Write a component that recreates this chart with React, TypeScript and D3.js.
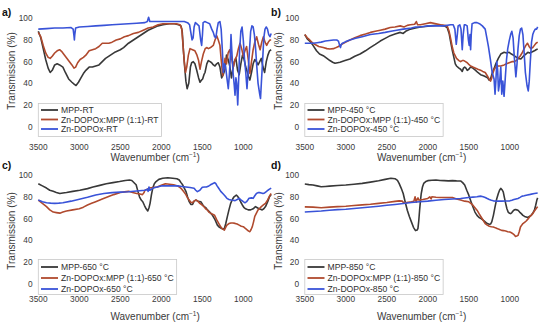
import React, { useEffect, useRef } from "react";
import * as d3 from "d3";

type Pt = [number, number];

const xTicks = [3500, 3000, 2500, 2000, 1500, 1000];
const yTicks = [0, 20, 40, 60, 80, 100];
const panelLetters = ["a)", "b)", "c)", "d)"];
const conditions = ["RT", "450 °C", "650 °C", "850 °C"];
const seriesNames = ["MPP", "Zn-DOPOx:MPP (1:1)", "Zn-DOPOx"];
const colors = ["#383838", "#b04a2e", "#3953d8"];

// panel a) room temperature
const mppRT: Pt[] = [[3500,88],[3470,82],[3440,72],[3410,62],[3380,54],[3355,50],[3330,52],[3300,57],[3270,58],[3240,57],[3200,55],[3170,50],[3130,44],[3090,41],[3060,39],[3040,38],[3010,41],[2980,45],[2950,49],[2920,52],[2880,55],[2840,55],[2800,56],[2760,57],[2720,60],[2680,63],[2620,66],[2560,69],[2500,71],[2460,73],[2400,77],[2340,80],[2280,83],[2220,86],[2160,89],[2100,91],[2040,93],[1980,94],[1900,95],[1840,95],[1790,94],[1760,93],[1745,88],[1730,70],[1715,55],[1700,42],[1685,35],[1665,40],[1645,55],[1630,59],[1610,60],[1590,58],[1568,52],[1545,45],[1528,41],[1510,43],[1496,44],[1480,48],[1467,50],[1445,58],[1427,61],[1405,60],[1386,59],[1365,57],[1345,56],[1325,58],[1305,59],[1285,55],[1264,45],[1245,48],[1223,53],[1205,66],[1185,62],[1165,56],[1145,45],[1130,52],[1110,60],[1090,63],[1070,52],[1050,48],[1030,58],[1010,66],[990,62],[970,55],[950,50],[935,46],[920,43],[900,50],[880,58],[860,62],[840,60],[820,57],[800,60],[780,63],[760,55],[740,50],[720,60],[700,66],[680,70],[660,71]];
const compRT: Pt[] = [[3500,87],[3470,83],[3440,75],[3410,68],[3380,64],[3355,63],[3330,65],[3300,68],[3270,70],[3240,71],[3210,69],[3180,66],[3150,63],[3120,60],[3090,57],[3065,54],[3045,55],[3020,59],[2990,62],[2950,64],[2920,66],[2880,70],[2840,71],[2800,72],[2760,74],[2720,77],[2680,77],[2640,77],[2600,78],[2550,80],[2500,81],[2450,83],[2400,84],[2340,86],[2280,87],[2220,89],[2160,91],[2100,92],[2040,94],[1980,95],[1900,95],[1820,95],[1770,94],[1750,90],[1735,75],[1720,60],[1705,50],[1690,55],[1670,66],[1650,72],[1620,71],[1590,70],[1565,66],[1545,61],[1528,53],[1510,60],[1488,67],[1465,72],[1447,73],[1425,72],[1400,73],[1366,75],[1345,80],[1325,84],[1305,80],[1285,75],[1265,58],[1251,47],[1235,55],[1223,63],[1205,58],[1185,68],[1165,71],[1140,62],[1122,55],[1100,62],[1080,65],[1060,72],[1040,77],[1020,72],[1000,65],[980,70],[960,74],[940,62],[919,49],[900,60],[880,71],[860,78],[837,83],[815,76],[795,71],[775,78],[755,83],[735,78],[715,75],[695,78],[675,80],[660,80]];
const dopoxRT: Pt[] = [[3500,90],[3400,90.5],[3300,91],[3200,91],[3100,91.5],[3075,90],[3065,84],[3060,80],[3055,85],[3045,91],[3000,92],[2900,92.5],[2800,93],[2700,93.5],[2600,94],[2500,94.5],[2400,95],[2300,95.5],[2200,96],[2170,97],[2155,101],[2140,97],[2100,97],[2000,97],[1900,97],[1800,97],[1720,97],[1680,96],[1655,94],[1640,87],[1625,80],[1612,82],[1600,92],[1585,96],[1570,95],[1540,93],[1520,80],[1508,75],[1498,85],[1490,96],[1470,97],[1440,96],[1410,95],[1385,90],[1366,87],[1350,83],[1335,82],[1320,90],[1305,96],[1285,97],[1270,90],[1255,70],[1244,50],[1230,58],[1215,55],[1200,45],[1183,35],[1170,48],[1160,62],[1150,85],[1140,70],[1125,50],[1110,38],[1101,29],[1090,45],[1080,40],[1068,20],[1058,40],[1045,70],[1030,88],[1015,92],[1000,80],[985,62],[970,50],[955,35],[940,52],[925,70],[910,88],[895,93],[880,92],[865,85],[850,72],[835,55],[820,40],[800,30],[790,26],[780,40],[765,60],[750,82],[735,90],[720,92],[705,90],[690,85],[675,83],[660,86]];

// panel b) 450 °C
const mpp450: Pt[] = [[3500,85],[3470,81],[3440,79],[3400,75],[3357,70],[3320,67],[3275,65.5],[3230,63],[3194,61],[3160,59.5],[3132,58.5],[3100,59],[3071,59.5],[3010,61],[2950,62.5],[2890,65],[2826,67],[2760,70],[2703,73],[2640,76],[2580,79],[2520,81.5],[2458,84],[2400,85.5],[2336,87],[2300,86],[2270,88],[2213,90],[2150,91],[2090,92],[2030,92.5],[1968,93],[1900,93.5],[1845,93.5],[1800,93],[1764,91.5],[1740,86],[1723,79],[1700,70],[1682,64],[1665,58],[1650,56],[1620,54],[1600,53],[1580,51],[1565,54],[1550,55],[1535,54],[1519,52],[1500,53],[1478,55],[1450,54],[1417,52],[1390,50],[1356,48],[1320,47],[1294,46],[1270,45],[1253,43],[1235,44],[1212,50],[1190,54],[1171,58],[1140,63],[1110,67],[1069,68.6],[1040,68],[1008,68.6],[980,67],[947,65.5],[900,63],[865,62.5],[835,65],[804,67],[780,68.6],[760,68],[730,69],[700,70],[680,71],[660,71.6]];
const comp450: Pt[] = [[3500,85],[3470,82],[3440,80],[3400,77],[3380,76],[3330,74],[3275,73],[3230,72],[3194,71.6],[3150,72],[3132,72.5],[3090,74],[3050,76],[3000,78],[2950,80],[2890,82],[2826,84],[2760,85.5],[2700,87],[2640,88],[2580,89],[2520,90],[2458,91.5],[2400,92],[2336,93],[2290,92],[2250,93.5],[2213,94],[2160,94.5],[2140,97],[2125,94],[2090,94],[2030,95],[1968,96],[1900,95],[1845,94],[1800,93.5],[1764,93],[1740,88],[1723,82],[1700,73],[1682,68],[1650,63],[1620,61],[1600,60],[1580,61],[1560,61],[1540,60],[1519,59],[1500,57.5],[1478,56],[1450,55],[1417,54],[1390,53],[1356,52],[1330,51],[1300,50],[1275,47],[1253,44],[1235,42],[1220,45],[1212,48],[1190,53],[1171,55],[1140,56],[1110,56],[1069,57],[1040,58],[1008,59],[975,60],[947,60],[920,61],[900,63],[875,65],[850,68],[825,72],[804,75],[785,77],[765,74],[743,72],[720,73],[700,75],[680,77],[660,78]];
const dopox450: Pt[] = [[3500,77],[3450,77],[3400,77],[3350,77.5],[3300,78],[3250,79],[3200,79.5],[3150,80],[3110,80],[3090,79],[3075,75],[3065,73],[3055,76],[3040,77],[3000,78.5],[2950,80],[2880,81.5],[2800,83],[2700,85],[2600,86],[2520,87],[2450,88],[2380,89],[2300,90],[2250,90.5],[2200,91],[2150,92],[2100,92],[2050,92.5],[2000,93],[1900,93],[1800,93],[1723,94],[1690,94],[1670,90],[1653,76],[1640,85],[1630,93],[1610,94],[1595,90],[1580,71],[1568,85],[1555,94],[1540,94],[1520,93],[1505,80],[1495,75],[1485,85],[1478,71],[1470,85],[1460,95],[1430,96],[1400,96],[1370,95],[1335,93],[1300,90],[1280,82],[1261,74],[1237,62],[1215,50],[1192,44],[1180,30],[1170,42],[1158,60],[1148,52],[1138,33],[1125,40],[1110,55],[1098,30],[1085,42],[1070,28],[1055,45],[1040,62],[1025,72],[1008,79],[990,85],[975,88],[960,82],[945,64],[926,46],[912,58],[900,72],[885,84],[870,90],[855,91],[840,85],[825,68],[810,50],[790,38],[775,33],[763,42],[750,60],[735,78],[720,85],[705,88],[690,90],[673,90],[660,92]];

// panel c) 650 °C
const mpp650: Pt[] = [[3500,92],[3450,90],[3400,88],[3360,86],[3318,85],[3280,84],[3237,83],[3200,83.5],[3156,84],[3080,85],[2994,86],[2900,87.5],[2833,89],[2750,90.5],[2671,92],[2590,93],[2509,94],[2440,95],[2388,95.4],[2360,95],[2347,94],[2320,92],[2307,91],[2285,85],[2266,80],[2245,77],[2226,75.5],[2205,72],[2185,69],[2165,67],[2150,70],[2137,74],[2120,82],[2104,88],[2085,92],[2064,94],[2030,96],[1983,97],[1920,97.5],[1862,97],[1810,96.5],[1781,95.4],[1760,93],[1740,91],[1720,88],[1700,85],[1680,80],[1660,75.5],[1640,73],[1619,73],[1600,76],[1579,77],[1550,76],[1518,75.5],[1497,73],[1477,71],[1457,70],[1437,68],[1410,66],[1376,63],[1345,59],[1316,54],[1290,52],[1263,51],[1235,50],[1215,55],[1194,62],[1175,68],[1154,74],[1130,78],[1113,80],[1085,81.6],[1070,80.5],[1053,78.6],[1030,75],[1012,72.5],[990,70],[972,69],[940,68],[911,68],[880,69],[851,71],[830,70],[810,69],[790,68.5],[770,68],[750,69],[729,71],[700,76],[681,80],[660,82]];
const comp650: Pt[] = [[3500,77],[3450,74],[3400,71],[3360,68],[3318,66],[3280,65.5],[3237,65],[3200,66],[3156,67],[3080,68],[3000,69],[2950,70.5],[2900,72.5],[2850,74],[2800,75.5],[2720,78],[2650,80],[2580,82],[2500,84],[2450,84.5],[2400,85],[2350,84],[2300,83],[2260,82.5],[2230,82],[2210,84],[2200,86],[2170,87],[2150,88],[2100,88.5],[2050,89],[2000,90.5],[1950,92],[1900,91.5],[1850,91],[1800,90],[1780,89],[1750,87],[1730,85],[1700,82],[1680,79],[1660,77],[1640,75],[1620,74.6],[1600,76],[1580,77],[1555,76],[1530,74],[1505,72.5],[1480,71],[1460,69],[1440,68],[1420,66],[1400,65],[1375,64],[1350,63],[1325,59],[1300,55.6],[1280,53],[1260,51],[1230,49.5],[1215,52],[1200,54],[1175,55.5],[1150,56],[1125,56],[1100,55.6],[1075,55],[1050,54],[1025,53],[1000,52.6],[975,51],[950,49.5],[935,48.5],[920,48],[905,50],[890,52.6],[875,57],[860,62],[840,65],[820,68],[800,69.5],[780,71],[755,72.5],[730,74],[705,77],[680,80.7],[660,83]];
const dopox650: Pt[] = [[3500,77],[3450,75.5],[3400,74.6],[3350,74.2],[3300,74],[3250,74.2],[3200,74.6],[3100,76],[3000,77.7],[2900,79.5],[2800,81.7],[2700,83],[2600,83.8],[2500,84.3],[2400,84.7],[2300,85.3],[2200,86],[2170,87],[2160,85],[2150,89],[2140,86],[2100,88],[2050,89],[2000,90],[1900,90],[1800,90],[1750,89.5],[1700,89],[1650,88.5],[1600,87.8],[1580,86],[1560,84.7],[1530,86],[1500,88.7],[1470,89],[1450,89],[1420,90],[1400,91],[1375,92],[1350,93],[1335,92],[1320,90],[1300,87.8],[1275,85],[1250,83],[1225,81],[1200,78.6],[1175,77.5],[1150,77],[1125,76.8],[1100,76.5],[1075,77.5],[1050,78.6],[1025,77],[1000,75.5],[980,74.5],[960,75.5],[945,77],[930,78.6],[900,79],[880,78.6],[860,81],[840,83],[820,83.8],[800,83.8],[780,83.5],[760,83],[740,83.5],[720,84.7],[700,86],[680,87],[660,88]];

// panel d) 850 °C
const mpp850: Pt[] = [[3500,91.7],[3450,91.2],[3400,90.8],[3350,90],[3300,89.2],[3250,89.5],[3200,89.8],[3100,90.3],[3000,90.8],[2900,91.5],[2800,92.3],[2700,93.5],[2600,94.8],[2520,96],[2450,97],[2400,96.6],[2370,95],[2350,92.3],[2325,88],[2300,83],[2275,75],[2250,67.7],[2225,62],[2200,57],[2175,52],[2150,49],[2130,49.5],[2120,51],[2110,58],[2100,67.7],[2090,76],[2080,83],[2065,89],[2050,92.3],[2025,94],[2000,94.8],[1950,95.2],[1900,95.4],[1850,95],[1800,94.8],[1750,94.6],[1700,94.8],[1650,94.6],[1600,94.5],[1575,93],[1550,90.8],[1525,86],[1500,81.5],[1475,76],[1450,70.8],[1425,66],[1400,63],[1375,61],[1350,60],[1325,58.5],[1300,57],[1275,55.5],[1250,54.8],[1235,55],[1220,57],[1200,63],[1180,70.8],[1160,78],[1140,83],[1125,86],[1110,87.7],[1095,86.5],[1080,84.6],[1065,79],[1050,73.8],[1035,69],[1020,66],[1005,65],[990,64.6],[975,65.5],[960,67],[945,68],[930,68.3],[915,68],[900,67.7],[880,66],[860,64.6],[840,63],[820,62],[800,61.5],[780,61],[760,62],[740,63],[720,65],[700,67.7],[685,72],[670,77],[660,79]];
const comp850: Pt[] = [[3500,70.8],[3400,70.5],[3300,70],[3200,70.5],[3100,71],[3000,71.4],[2900,72],[2800,72.6],[2700,73.2],[2600,74],[2500,74.8],[2400,75.8],[2350,76.3],[2310,76],[2290,74],[2270,74.5],[2240,75],[2200,75.4],[2170,76],[2155,80],[2148,77],[2140,75],[2130,78],[2120,79],[2110,77],[2100,77],[2060,77.5],[2030,78],[2000,78.5],[1975,80],[1960,78],[1950,80],[1900,79.6],[1850,79.4],[1800,79.4],[1750,79.4],[1700,79.4],[1650,78],[1600,77],[1550,76],[1500,75.4],[1475,74],[1450,72.3],[1425,70],[1400,67.7],[1375,64.5],[1350,61.5],[1325,58.5],[1300,55.4],[1275,54],[1250,53],[1225,52.5],[1200,52.3],[1175,51.5],[1150,50.8],[1125,50],[1100,49.2],[1075,49],[1050,48.6],[1025,48],[1000,47.7],[980,47],[960,46],[945,45],[930,43.7],[915,44],[900,44.6],[885,48],[870,52.3],[855,54],[840,55.4],[820,56.5],[800,57.8],[780,59.5],[760,61.5],[740,63],[720,64.6],[700,67],[680,69],[660,71]];
const dopox850: Pt[] = [[3500,66],[3400,66.5],[3300,67],[3200,67.7],[3100,68.2],[3000,68.6],[2900,69.3],[2800,70],[2700,70.7],[2600,71.4],[2500,72.2],[2400,73],[2300,73.9],[2200,74.8],[2100,75.4],[2000,76],[1900,76.8],[1800,77.5],[1700,78],[1600,78.5],[1500,79.4],[1450,79.7],[1400,80],[1375,80.4],[1350,80.6],[1325,80],[1300,79.4],[1275,78.4],[1250,77.5],[1225,76.8],[1200,76.3],[1150,76],[1100,76],[1050,76.1],[1000,76.3],[975,76.8],[950,77.5],[925,78],[900,78.5],[875,79.5],[850,80.6],[825,81],[800,81.5],[750,82.2],[700,83],[660,83.5]];

const panelData = [
  [mppRT, compRT, dopoxRT],
  [mpp450, comp450, dopox450],
  [mpp650, comp650, dopox650],
  [mpp850, comp850, dopox850],
];

// layout of the two rows (they are slightly different in the source figure)
const rows = [
  { top: 18.3, bottom: 137.5, tickY: 147, titleY: 157, letterY: 12.5, yTitle: 71, legTop: 103.5, legBottom: 136.5, legRows: [110, 119.5, 129] },
  { top: 175, bottom: 294.9, tickY: 299, titleY: 316, letterY: 165, yTitle: 231, legTop: 259.5, legBottom: 294.5, legRows: [267, 278, 289] },
];
const colsDx = [0, 266.5];

const FONT = "'Liberation Sans', Arial, sans-serif";

export default function App() {
  const ref = useRef<SVGSVGElement>(null);

  useEffect(() => {
    const svg = d3.select(ref.current);
    svg.selectAll("*").remove();
    svg.attr("font-family", FONT);

    panelData.forEach((series, i) => {
      const row = rows[Math.floor(i / 2)];
      const dx = colsDx[i % 2];
      const g = svg.append("g").attr("transform", `translate(${dx},0)`);

      const x = d3.scaleLinear().domain([3500, 650]).range([38.3, 272]);
      const y = d3.scaleLinear().domain([-10, 100]).range([row.bottom, row.top]);

      // y tick labels
      g.append("g")
        .selectAll("text")
        .data(yTicks)
        .join("text")
        .attr("x", 32.5)
        .attr("y", d => y(d))
        .attr("dy", "0.35em")
        .attr("text-anchor", "end")
        .attr("font-size", 8.3)
        .attr("fill", "#3a3a3a")
        .text(d => d);

      // x tick labels
      g.append("g")
        .selectAll("text")
        .data(xTicks)
        .join("text")
        .attr("x", d => x(d))
        .attr("y", row.tickY)
        .attr("dy", "0.35em")
        .attr("text-anchor", "middle")
        .attr("font-size", 8.3)
        .attr("fill", "#3a3a3a")
        .text(d => d);

      // axis titles
      const xt = g.append("text")
        .attr("x", (x(3500) + x(650)) / 2)
        .attr("y", row.titleY)
        .attr("dy", "0.35em")
        .attr("text-anchor", "middle")
        .attr("font-size", 10)
        .attr("fill", "#3a3a3a")
        .text("Wavenumber (cm");
      xt.append("tspan").attr("font-size", 6.5).attr("dy", "-0.6em").text("−1");
      xt.append("tspan").attr("dy", "0.4em").text(")");

      g.append("text")
        .attr("transform", `translate(11.5,${row.yTitle}) rotate(-90)`)
        .attr("dy", "0.35em")
        .attr("text-anchor", "middle")
        .attr("font-size", 10)
        .attr("fill", "#3a3a3a")
        .text("Transmission (%)");

      // panel letter
      svg.append("text")
        .attr("x", i % 2 === 0 ? 2 : 271)
        .attr("y", row.letterY)
        .attr("dy", "0.35em")
        .attr("font-size", 10.5)
        .attr("font-weight", "bold")
        .attr("fill", "#111")
        .text(panelLetters[i]);

      // spectra
      const line = d3.line<Pt>().x(d => x(d[0])).y(d => y(d[1]));
      g.append("g")
        .selectAll("path")
        .data(series)
        .join("path")
        .attr("d", d => line(d))
        .attr("fill", "none")
        .attr("stroke", (_, k) => colors[k])
        .attr("stroke-width", 1.6)
        .attr("stroke-linejoin", "round");

      // legend
      const leg = g.append("g");
      const box = leg.append("rect")
        .attr("x", 38.3)
        .attr("y", row.legTop)
        .attr("height", row.legBottom - row.legTop)
        .attr("fill", "white")
        .attr("stroke", "#c8c8c8")
        .attr("stroke-width", 0.8);
      let maxEnd = 0;
      seriesNames.forEach((name, k) => {
        const cy = row.legRows[k];
        leg.append("line")
          .attr("x1", 41).attr("x2", 58)
          .attr("y1", cy).attr("y2", cy)
          .attr("stroke", colors[k])
          .attr("stroke-width", 1.8);
        const t = leg.append("text")
          .attr("x", 61)
          .attr("y", cy)
          .attr("dy", "0.35em")
          .attr("font-size", 8.6)
          .attr("fill", "#303030")
          .text(`${name}-${conditions[i]}`);
        const node = t.node() as SVGTextElement;
        maxEnd = Math.max(maxEnd, 61 + node.getComputedTextLength());
      });
      box.attr("width", maxEnd + 3 - 38.3);
    });
  }, []);

  return (
    <svg
      ref={ref}
      width={550}
      height={328}
      style={{ position: "absolute", left: 0, top: 0, background: "white" }}
    />
  );
}
